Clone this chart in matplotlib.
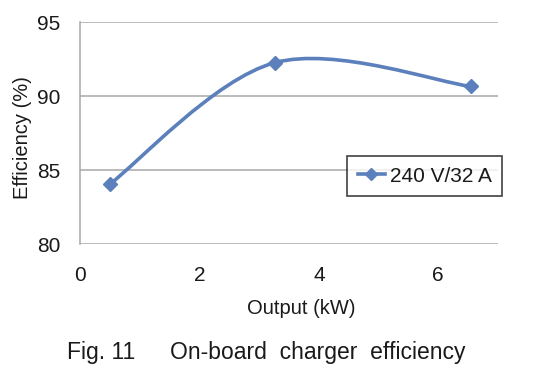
import numpy as np
import matplotlib.pyplot as plt
from matplotlib.path import Path
from matplotlib.patches import PathPatch
from matplotlib.lines import Line2D

plt.rcParams['font.family'] = ['Liberation Sans', 'DejaVu Sans']

# data
output_kw = [0.5, 3.26, 6.54]
efficiency = [84.05, 92.25, 90.65]
series_label = '240 V/32 A'
x_ticks = [0, 2, 4, 6]
y_ticks = [80, 85, 90, 95]

line_color = '#5b80bb'
grid_color = '#a8a8a8'
text_color = '#1a1a1a'

fig = plt.figure(figsize=(5.43, 3.75), dpi=100)
ax = fig.add_axes([80 / 543, 1 - 244 / 375, 418 / 543, 222 / 375])
ax.set_xlim(0, 7)
ax.set_ylim(80, 95)

# Excel-style smoothed line: cubic bezier through the points
x = np.array(output_kw)
y = np.array(efficiency)
verts = [(x[0], y[0])]
codes = [Path.MOVETO]
n = len(x)
for i in range(n - 1):
    p0 = np.array([x[max(i - 1, 0)], y[max(i - 1, 0)]])
    p1 = np.array([x[i], y[i]])
    p2 = np.array([x[i + 1], y[i + 1]])
    p3 = np.array([x[min(i + 2, n - 1)], y[min(i + 2, n - 1)]])
    c1 = p1 + (p2 - p0) / 6
    c2 = p2 - (p3 - p1) / 6
    verts += [tuple(c1), tuple(c2), tuple(p2)]
    codes += [Path.CURVE4] * 3
ax.add_patch(PathPatch(Path(verts, codes), facecolor='none', edgecolor=line_color,
                       lw=2.6, capstyle='round', zorder=3))
ax.plot(output_kw, efficiency, linestyle='none', marker='D', markersize=7.5,
        color=line_color, zorder=4)

ax.set_xticks(x_ticks)
ax.set_yticks(y_ticks)
ax.yaxis.grid(True, color=grid_color, lw=1.1)
ax.set_axisbelow(True)
for s in ['top', 'right', 'bottom']:
    ax.spines[s].set_visible(False)
ax.spines['left'].set_color(grid_color)
ax.spines['left'].set_linewidth(1.1)
ax.tick_params(length=0, labelsize=15, colors=text_color)
ax.tick_params(axis='x', pad=16)
ax.tick_params(axis='y', pad=14)

ax.set_xlabel('Output (kW)', fontsize=14.5, color=text_color, va='center')
ax.xaxis.set_label_coords((301 - 80) / 418, (244 - 308) / 222)
ax.set_ylabel('Efficiency (%)', fontsize=14.5, color=text_color, va='center')
ax.yaxis.set_label_coords((23 - 80) / 418, (244 - 138) / 222)

handle = Line2D([], [], color=line_color, lw=2.6, marker='D', markersize=6.5)
leg = ax.legend([handle], [series_label], loc='center right',
                bbox_to_anchor=(1.01, 0.306), fontsize=15, frameon=True,
                fancybox=False, edgecolor='#111111', borderpad=0.5,
                handlelength=1.3, handletextpad=0.25, borderaxespad=0)
leg.get_frame().set_linewidth(1.2)
for t in leg.get_texts():
    t.set_color(text_color)

fig.text(67 / 543, 1 - 352 / 375, 'Fig. 11', fontsize=16.5, color=text_color,
         va='center', ha='left')
fig.text(170 / 543, 1 - 352 / 375, 'On-board  charger  efficiency', fontsize=16.5,
         color=text_color, va='center', ha='left')

fig.savefig('out.png', dpi=100)
